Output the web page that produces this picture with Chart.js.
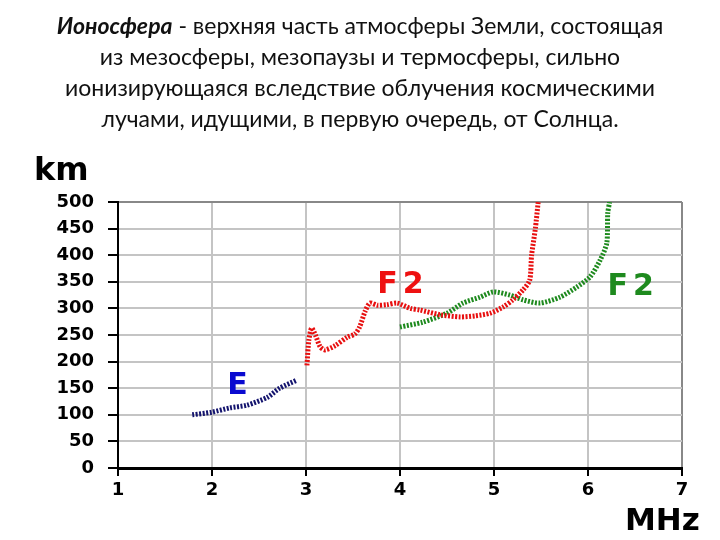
<!DOCTYPE html>
<html>
<head>
<meta charset="utf-8">
<script src="https://cdn.jsdelivr.net/npm/chart.js@4.4.0/dist/chart.umd.min.js"></script>
<style>
  body { margin: 0; background: #fff; }
  #wrap { position: relative; width: 720px; height: 540px; }
  #title {
    position: absolute; left: 0; top: 10px; width: 720px;
    text-align: center; font-family: Lato, sans-serif; font-size: 23px;
    line-height: 31px; color: #111;
  }
  canvas { position: absolute; left: 0; top: 0; }
</style>
</head>
<body>
<div id="wrap">
  <canvas id="chart" width="720" height="540"></canvas>
  <div id="title"><b><i>Ионосфера</i></b> - верхняя часть атмосферы Земли, состоящая<br>из мезосферы, мезопаузы и термосферы, сильно<br>ионизирующаяся вследствие облучения космическими<br>лучами, идущими, в первую очередь, от Солнца.</div>
</div>
<script>
// frequency (MHz) / height (km)
var eFreq = [1.79, 2.0, 2.19, 2.37, 2.59, 2.72, 2.9];
var eHeight = [100, 105, 113, 118, 133, 150, 165];

var redFreq = [3.01, 3.03, 3.06, 3.10, 3.15, 3.20, 3.31, 3.44, 3.52, 3.57, 3.63, 3.68, 3.76, 3.86, 3.97, 4.11, 4.21, 4.43, 4.64, 4.80, 4.96, 5.10, 5.20, 5.31, 5.38, 5.40, 5.44, 5.47];
var redHeight = [193, 240, 263, 250, 228, 222, 230, 246, 252, 265, 295, 310, 306, 307, 310, 300, 297, 288, 284, 286, 291, 303, 316, 335, 353, 400, 450, 500];

var greenFreq = [4.00, 4.24, 4.50, 4.67, 4.85, 4.99, 5.17, 5.31, 5.49, 5.70, 5.88, 6.02, 6.13, 6.20, 6.21, 6.23];
var greenHeight = [265, 274, 291, 310, 321, 331, 325, 316, 310, 321, 340, 359, 391, 423, 479, 500];

var xTicks = [1, 2, 3, 4, 5, 6, 7];
var yTicks = [0, 50, 100, 150, 200, 250, 300, 350, 400, 450, 500];

// layer labels: text, freq, height, colour
var layerLabels = [
    ["E", 2.27, 154, "#0a0ad0"],
    ["F2", 4.03, 344, "#ee1111"],
    ["F2", 6.48, 340, "#1e8a1e"]
];

function toPoints(xs, ys) {
    return xs.map(function (x, i) { return { x: x, y: ys[i] }; });
}

function curve(xs, ys, color) {
    return {
        data: toPoints(xs, ys),
        borderColor: color,
        borderWidth: 5,
        borderDash: [2, 1.5],
        pointRadius: 0,
        tension: 0.25,
        fill: false
    };
}

var labelPlugin = {
    id: "labels",
    afterDraw: function (chart) {
        var ctx = chart.ctx;
        var xs = chart.scales.x, ys = chart.scales.y;
        ctx.save();
        ctx.textAlign = "center";
        ctx.textBaseline = "middle";
        layerLabels.forEach(function (l) {
            ctx.fillStyle = l[3];
            ctx.font = "bold 30px 'DejaVu Sans'";
            ctx.letterSpacing = l[0].length > 1 ? "5px" : "0px";
            ctx.fillText(l[0], xs.getPixelForValue(l[1]), ys.getPixelForValue(l[2]));
        });
        ctx.letterSpacing = "0px";
        ctx.fillStyle = "#000";
        ctx.textAlign = "left";
        ctx.textBaseline = "alphabetic";
        ctx.font = "bold 32px 'DejaVu Sans'";
        ctx.fillText("km", 34, 180);
        ctx.font = "bold 31px 'DejaVu Sans'";
        ctx.fillText("MHz", 625, 530);
        ctx.restore();
    }
};

var tickFont = { family: "DejaVu Sans", size: 18, weight: "bold" };

new Chart(document.getElementById("chart"), {
    type: "line",
    data: {
        datasets: [
            curve(eFreq, eHeight, "#14146e"),
            curve(redFreq, redHeight, "#e81010"),
            curve(greenFreq, greenHeight, "#1e8a1e")
        ]
    },
    options: {
        responsive: false,
        animation: false,
        layout: { padding: { top: 202, right: 38, left: 0, bottom: 0 } },
        plugins: { legend: { display: false }, tooltip: { enabled: false } },
        scales: {
            x: {
                type: "linear", min: 1, max: 7,
                afterBuildTicks: function (s) { s.ticks = xTicks.map(function (v) { return { value: v }; }); },
                afterFit: function (s) { s.height = 72; },
                ticks: { color: "#000", font: tickFont, padding: 4 },
                grid: {
                    color: function (c) { return c.tick && c.tick.value === 7 ? "#888" : "#c4c4c4"; },
                    lineWidth: 2, tickColor: "#000", tickLength: 8, tickWidth: 2
                },
                border: { color: "#000", width: 3 }
            },
            y: {
                min: 0, max: 500,
                afterBuildTicks: function (s) { s.ticks = yTicks.map(function (v) { return { value: v }; }); },
                afterFit: function (s) { s.width = 118; },
                ticks: { color: "#000", font: tickFont, padding: 14 },
                grid: {
                    color: function (c) { return c.tick && c.tick.value === 500 ? "#888" : "#c4c4c4"; },
                    lineWidth: 2, tickColor: "#000", tickLength: 10, tickWidth: 2
                },
                border: { color: "#000", width: 2 }
            }
        }
    },
    plugins: [labelPlugin]
});
</script>
</body>
</html>
